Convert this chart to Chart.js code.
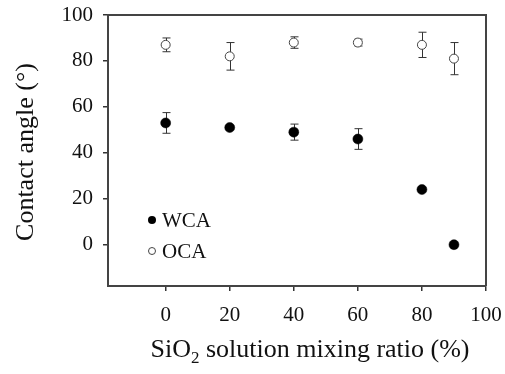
<!DOCTYPE html>
<html>
<head>
<meta charset="utf-8">
<script src="https://cdn.jsdelivr.net/npm/chart.js@4/dist/chart.umd.min.js"></script>
<style>
html,body{margin:0;padding:0;background:#fff;}
#wrap{width:505px;height:374px;position:relative;}
</style>
</head>
<body>
<div id="wrap"><canvas id="c" width="505" height="374"></canvas></div>
<script>
const ratios = [0, 20, 40, 60, 80, 90];
const wcaValues = [53, 51, 49, 46, 24, 0];
const wcaErrors = [4.5, 0, 3.5, 4.5, 0, 0];
const ocaValues = [87, 82, 88, 88, 87, 81];
const ocaErrors = [3, 6, 2.5, 1.5, 5.5, 7];
const xTicks = [0, 20, 40, 60, 80, 100];
const yTicks = [0, 20, 40, 60, 80, 100];
const seriesNames = ['WCA', 'OCA'];
const yTitle = 'Contact angle (\u00B0)';
const xTitleParts = ['SiO', '2', ' solution mixing ratio (%)'];

const FONT = '"Liberation Serif", serif';

const toPoints = (xs, ys) => xs.map((x, i) => ({x: x, y: ys[i]}));

const errorBars = {
  id: 'errorBars',
  beforeDatasetsDraw(chart) {
    const ctx = chart.ctx, xs = chart.scales.x, ys = chart.scales.y;
    const sets = [[wcaValues, wcaErrors], [ocaValues, ocaErrors]];
    ctx.save();
    ctx.strokeStyle = '#333';
    ctx.lineWidth = 1;
    sets.forEach(([vals, errs]) => {
      vals.forEach((v, i) => {
        if (!errs[i]) return;
        const px = Math.round(xs.getPixelForValue(ratios[i])) + 0.5;
        const top = ys.getPixelForValue(v + errs[i]);
        const bot = ys.getPixelForValue(v - errs[i]);
        ctx.beginPath();
        ctx.moveTo(px, top); ctx.lineTo(px, bot);
        ctx.moveTo(px - 4, top); ctx.lineTo(px + 4, top);
        ctx.moveTo(px - 4, bot); ctx.lineTo(px + 4, bot);
        ctx.stroke();
      });
    });
    ctx.restore();
  }
};

const decor = {
  id: 'decor',
  afterDraw(chart) {
    const ctx = chart.ctx, a = chart.chartArea;
    ctx.save();
    ctx.strokeStyle = '#444';
    ctx.lineWidth = 2;
    ctx.beginPath();
    ctx.moveTo(a.left, a.top); ctx.lineTo(a.right, a.top); ctx.lineTo(a.right, a.bottom);
    ctx.stroke();

    // legend
    const lx = 152;
    const rows = [220, 251];
    ctx.font = '21px ' + FONT;
    ctx.textBaseline = 'middle';
    ctx.textAlign = 'left';
    ctx.beginPath(); ctx.arc(lx, rows[0], 4, 0, Math.PI * 2); ctx.fillStyle = '#000'; ctx.fill();
    ctx.fillStyle = '#111'; ctx.fillText(seriesNames[0], lx + 10, rows[0] + 1);
    ctx.beginPath(); ctx.arc(lx, rows[1], 3.5, 0, Math.PI * 2);
    ctx.fillStyle = '#fff'; ctx.fill(); ctx.strokeStyle = '#444'; ctx.lineWidth = 1; ctx.stroke();
    ctx.fillStyle = '#111'; ctx.fillText(seriesNames[1], lx + 10, rows[1] + 1);

    // y title
    ctx.save();
    ctx.translate(33, 152);
    ctx.rotate(-Math.PI / 2);
    ctx.font = '26px ' + FONT;
    ctx.textAlign = 'center';
    ctx.textBaseline = 'alphabetic';
    ctx.fillText(yTitle, 0, 0);
    ctx.restore();

    // x title with subscript
    const big = '26px ' + FONT, small = '17px ' + FONT;
    ctx.textBaseline = 'alphabetic';
    ctx.textAlign = 'left';
    ctx.font = big; const w0 = ctx.measureText(xTitleParts[0]).width;
    ctx.font = small; const w1 = ctx.measureText(xTitleParts[1]).width;
    ctx.font = big; const w2 = ctx.measureText(xTitleParts[2]).width;
    let x = 310 - (w0 + w1 + w2) / 2;
    const by = 357;
    ctx.font = big; ctx.fillText(xTitleParts[0], x, by); x += w0;
    ctx.font = small; ctx.fillText(xTitleParts[1], x, by + 6); x += w1;
    ctx.font = big; ctx.fillText(xTitleParts[2], x, by);
    ctx.restore();
  }
};

new Chart(document.getElementById('c'), {
  type: 'scatter',
  data: {
    datasets: [
      {
        label: seriesNames[0],
        data: toPoints(ratios, wcaValues),
        pointRadius: 5,
        pointBackgroundColor: '#000',
        pointBorderColor: '#000',
        pointBorderWidth: 0.5
      },
      {
        label: seriesNames[1],
        data: toPoints(ratios, ocaValues),
        pointRadius: 4.5,
        pointBackgroundColor: '#fff',
        pointBorderColor: '#444',
        pointBorderWidth: 1
      }
    ]
  },
  options: {
    responsive: false,
    animation: false,
    layout: {autoPadding: false, padding: {top: 15, right: 19, left: 0, bottom: 0}},
    plugins: {legend: {display: false}, tooltip: {enabled: false}},
    scales: {
      x: {
        type: 'linear', min: -18, max: 100,
        afterBuildTicks(s) { s.ticks = xTicks.map(v => ({value: v})); },
        afterFit(s) { s.height = 88; s.paddingLeft = 0; s.paddingRight = 0; },
        grid: {display: true, drawOnChartArea: false, drawTicks: true, tickLength: 5, color: '#333', lineWidth: 1.5},
        border: {display: true, color: '#444', width: 2},
        ticks: {color: '#111', font: {family: FONT, size: 21}, padding: 12, maxRotation: 0}
      },
      y: {
        type: 'linear', min: -18, max: 100,
        afterBuildTicks(s) { s.ticks = yTicks.map(v => ({value: v})); },
        afterFit(s) { s.width = 108; s.paddingTop = 0; s.paddingBottom = 0; },
        grid: {display: true, drawOnChartArea: false, drawTicks: true, tickLength: 5, color: '#333', lineWidth: 1.5},
        border: {display: true, color: '#444', width: 2},
        ticks: {color: '#111', font: {family: FONT, size: 21}, padding: 10}
      }
    }
  },
  plugins: [errorBars, decor]
});
</script>
</body>
</html>
